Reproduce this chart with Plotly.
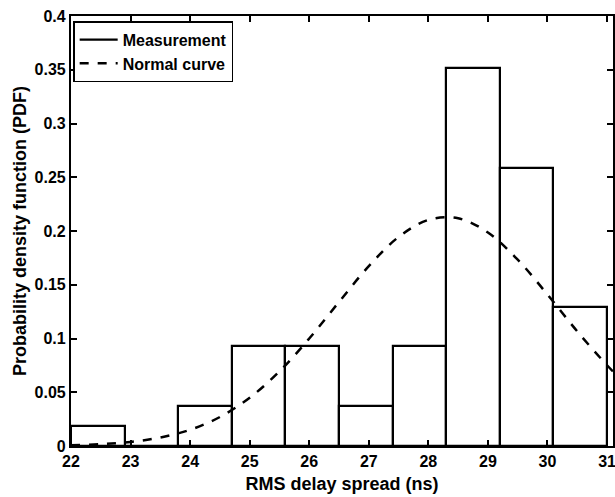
import plotly.graph_objects as go

# Histogram bins (RMS delay spread, ns) and PDF heights
bin_left = [22.0, 22.9, 23.8, 24.7, 25.6, 26.5, 27.4, 28.3, 29.2, 30.1]
bin_width = 0.9
pdf_values = [0.0185, 0.0, 0.037, 0.0926, 0.0926, 0.037, 0.0926, 0.352, 0.259, 0.1296]

# Normal curve
curve_x = [22.0, 22.5, 23.0, 23.5, 24.0, 24.5, 25.0, 25.5, 26.0, 26.5, 27.0,
           27.5, 28.0, 28.5, 29.0, 29.5, 30.0, 30.5, 31.0, 31.1]
curve_y = [0.0008, 0.0017, 0.0038, 0.0079, 0.0151, 0.027, 0.0449, 0.0694, 0.100,
           0.134, 0.1673, 0.1944, 0.2103, 0.2118, 0.1986, 0.1733, 0.1409, 0.1066,
           0.0751, 0.0694]

x_ticks = [22, 23, 24, 25, 26, 27, 28, 29, 30, 31]

FONT = "Arial, Liberation Sans, sans-serif"

fig = go.Figure()
fig.add_trace(go.Bar(
    x=[b + bin_width / 2 for b in bin_left], y=pdf_values, width=bin_width,
    marker=dict(color="white", line=dict(color="black", width=2.2)),
    showlegend=False, hoverinfo="x+y",
))
fig.add_trace(go.Scatter(
    x=[None], y=[None], mode="lines", name="Measurement",
    line=dict(color="black", width=2.2),
))
fig.add_trace(go.Scatter(
    x=curve_x, y=curve_y, mode="lines", name="Normal curve",
    line=dict(color="black", width=2.5, dash="dash", shape="spline"),
))

axis_common = dict(
    showline=True, linecolor="black", linewidth=2.2, mirror="ticks",
    ticks="inside", ticklen=6, tickwidth=2, tickcolor="black",
    showgrid=False, zeroline=False, automargin=False,
    ticklabeloverflow="allow",
    tickfont=dict(family=FONT, size=16, color="black", weight="bold"),
)

fig.update_layout(
    width=615, height=497,
    margin=dict(l=71, r=2, t=16, b=51),
    plot_bgcolor="white", paper_bgcolor="white",
    font=dict(family=FONT, size=16, color="black"),
    bargap=0,
    xaxis=dict(range=[22, 31.1], tickvals=x_ticks,
               title=dict(text="RMS delay spread (ns)", standoff=8,
                          font=dict(family=FONT, size=18, color="black", weight="bold")),
               **axis_common),
    yaxis=dict(range=[0, 0.4], dtick=0.05,
               title=dict(text="Probability density function (PDF)", standoff=3,
                          font=dict(family=FONT, size=18, color="black", weight="bold")),
               **axis_common),
    legend=dict(x=0.004, y=0.988, xanchor="left", yanchor="top",
                bgcolor="white", bordercolor="black", borderwidth=1.5,
                font=dict(family=FONT, size=16, color="black", weight="bold"),
                tracegroupgap=0, itemwidth=38),
)

fig.write_html(
    "out.html",
    config={"displayModeBar": False},
    post_script="document.body.style.margin='0';document.body.style.overflow='hidden';",
)
